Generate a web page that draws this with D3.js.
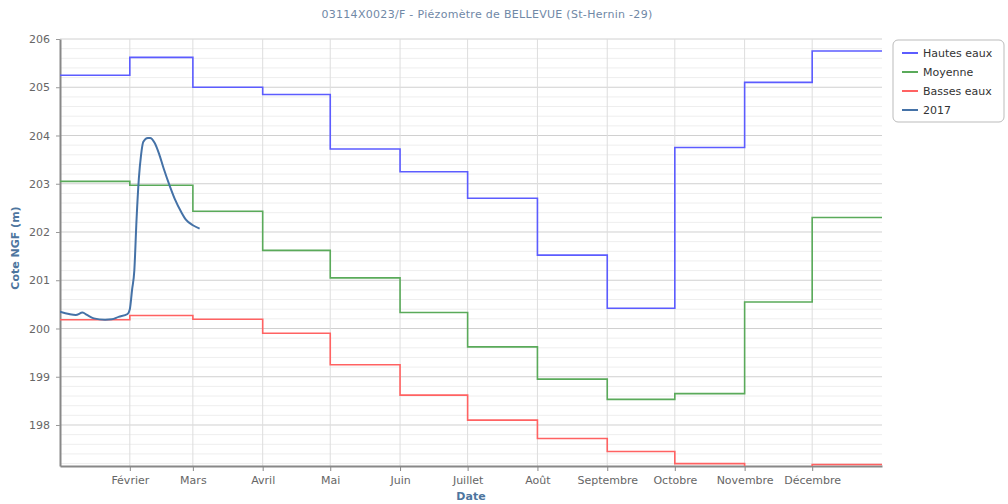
<!DOCTYPE html>
<html>
<head>
<meta charset="utf-8">
<script src="https://cdn.jsdelivr.net/npm/d3@7"></script>
<style>
  body { margin: 0; background: #fff; }
  svg { font-family: 'DejaVu Sans', sans-serif; }
  .tick-label { font-size: 11px; fill: #666; }
  .axis-title { font-size: 11px; fill: #4d759e; font-weight: bold; }
  .chart-title { font-size: 11px; fill: #7088a6; letter-spacing: 0.3px; }
  .legend-text { font-size: 11px; fill: #333; }
</style>
</head>
<body>
<svg id="chart" width="1008" height="504"></svg>
<script>
// Monthly reference levels (one value per month, held until next month)
const monthStarts = ['2017-01-01', '2017-02-01', '2017-03-01', '2017-04-01', '2017-05-01', '2017-06-01',
  '2017-07-01', '2017-08-01', '2017-09-01', '2017-10-01', '2017-11-01', '2017-12-01'];
const monthLabels = ['', 'Février', 'Mars', 'Avril', 'Mai', 'Juin', 'Juillet', 'Août', 'Septembre', 'Octobre', 'Novembre', 'Décembre'];
const hautesEaux = [205.25, 205.62, 205.0, 204.85, 203.72, 203.25, 202.7, 201.52, 200.42, 203.75, 205.1, 205.75];
const moyenne = [203.05, 202.97, 202.43, 201.62, 201.05, 200.33, 199.62, 198.95, 198.53, 198.65, 200.55, 202.3];
const bassesEaux = [200.18, 200.27, 200.19, 199.9, 199.25, 198.62, 198.1, 197.72, 197.45, 197.2, 196.9, 197.18];

// 2017 measurements
const dates2017 = ['2017-01-01', '2017-01-05', '2017-01-08', '2017-01-11', '2017-01-13', '2017-01-16', '2017-01-21',
  '2017-01-24', '2017-01-27', '2017-01-31', '2017-02-01', '2017-02-02', '2017-02-03', '2017-02-04', '2017-02-05',
  '2017-02-06', '2017-02-07', '2017-02-09', '2017-02-10', '2017-02-12', '2017-02-14', '2017-02-16', '2017-02-19',
  '2017-02-21', '2017-02-24', '2017-02-26', '2017-03-01', '2017-03-04'];
const values2017 = [200.35, 200.3, 200.28, 200.33, 200.28, 200.21, 200.18,
  200.19, 200.24, 200.3, 200.4, 200.8, 201.2, 202.27, 203.1,
  203.6, 203.87, 203.95, 203.95, 203.85, 203.62, 203.32, 202.92,
  202.68, 202.4, 202.25, 202.14, 202.07];

const yTicks = [198, 199, 200, 201, 202, 203, 204, 205, 206];

const series = [
  { name: 'Hautes eaux', values: hautesEaux, color: '#5c5cff' },
  { name: 'Moyenne', values: moyenne, color: '#5aaa5a' },
  { name: 'Basses eaux', values: bassesEaux, color: '#ff6262' },
];

const parse = d3.timeParse('%Y-%m-%d');
const svg = d3.select('#chart');

const margin = { top: 39, right: 126, bottom: 38, left: 60 };
const width = 1008 - margin.left - margin.right;
const height = 504 - margin.top - margin.bottom;

const x = d3.scaleTime()
  .domain([parse('2017-01-01'), parse('2018-01-01')])
  .range([0, width]);

const y = d3.scaleLinear()
  .domain([197.15, 206])
  .range([height, 0]);

const chart = svg.append('g')
  .attr('transform', `translate(${margin.left},${margin.top})`);

// Minor horizontal grid (every 0.2 m)
const minorTicks = d3.range(197.2, 206.001, 0.2).filter((v) => Math.abs(v - Math.round(v)) > 0.01);
chart.append('g')
  .selectAll('line')
  .data(minorTicks)
  .join('line')
  .attr('x1', 0).attr('x2', width)
  .attr('y1', (d) => y(d)).attr('y2', (d) => y(d))
  .attr('stroke', '#eeeeee');

// Major horizontal grid
chart.append('g')
  .selectAll('line')
  .data(yTicks)
  .join('line')
  .attr('x1', 0).attr('x2', width)
  .attr('y1', (d) => y(d)).attr('y2', (d) => y(d))
  .attr('stroke', '#d0d0d0');

// Vertical grid at each month start
const monthDates = monthStarts.map(parse);
chart.append('g')
  .selectAll('line')
  .data(monthDates.slice(1))
  .join('line')
  .attr('x1', (d) => x(d)).attr('x2', (d) => x(d))
  .attr('y1', 0).attr('y2', height)
  .attr('stroke', '#dddddd');

// X axis
const xAxis = chart.append('g')
  .attr('transform', `translate(0,${height})`)
  .call(d3.axisBottom(x)
    .tickValues(monthDates.slice(1))
    .tickFormat((d, i) => monthLabels[i + 1])
    .tickSize(5)
    .tickSizeOuter(0)
    .tickPadding(5));
xAxis.select('.domain').attr('stroke', '#888').attr('stroke-width', 2);
xAxis.selectAll('.tick line').attr('stroke', '#888');
xAxis.selectAll('text').attr('class', 'tick-label').attr('fill', null);
xAxis.attr('font-size', null).attr('font-family', null);

// Y axis
const yAxis = chart.append('g')
  .call(d3.axisLeft(y)
    .tickValues(yTicks)
    .tickFormat(d3.format('d'))
    .tickSize(4)
    .tickSizeOuter(0)
    .tickPadding(6));
yAxis.select('.domain').attr('stroke', '#888').attr('stroke-width', 2);
yAxis.selectAll('.tick line').attr('stroke', '#999');
yAxis.selectAll('text').attr('class', 'tick-label').attr('fill', null);
yAxis.attr('font-size', null).attr('font-family', null);

// Clip so values below the axis minimum are hidden
svg.append('defs').append('clipPath').attr('id', 'plot-clip')
  .append('rect').attr('width', width).attr('height', height);

const plot = chart.append('g').attr('clip-path', 'url(#plot-clip)');

const stepLine = d3.line()
  .x((d) => x(d.date))
  .y((d) => y(d.value))
  .curve(d3.curveStepAfter);

series.forEach((s) => {
  const points = monthDates.map((date, i) => ({ date, value: s.values[i] }));
  // hold December until the end of the year
  points.push({ date: x.domain()[1], value: s.values[s.values.length - 1] });
  plot.append('path')
    .datum(points)
    .attr('fill', 'none')
    .attr('stroke', s.color)
    .attr('stroke-width', 1.6)
    .attr('d', stepLine);
});

const line2017 = d3.line()
  .x((d) => x(d.date))
  .y((d) => y(d.value))
  .curve(d3.curveMonotoneX);

plot.append('path')
  .datum(dates2017.map((d, i) => ({ date: parse(d), value: values2017[i] })))
  .attr('fill', 'none')
  .attr('stroke', '#4572a7')
  .attr('stroke-width', 2)
  .attr('d', line2017);

// Title and axis titles
svg.append('text')
  .attr('class', 'chart-title')
  .attr('x', 487)
  .attr('y', 18)
  .attr('text-anchor', 'middle')
  .text('03114X0023/F - Piézomètre de BELLEVUE (St-Hernin -29)');

svg.append('text')
  .attr('class', 'axis-title')
  .attr('x', margin.left + width / 2)
  .attr('y', 500)
  .attr('text-anchor', 'middle')
  .text('Date');

svg.append('text')
  .attr('class', 'axis-title')
  .attr('transform', 'rotate(-90)')
  .attr('x', -248)
  .attr('y', 19)
  .attr('text-anchor', 'middle')
  .text('Cote NGF (m)');

// Legend
const legend = svg.append('g').attr('transform', 'translate(893,40)');
legend.append('rect')
  .attr('width', 111).attr('height', 82)
  .attr('rx', 5)
  .attr('fill', '#fff')
  .attr('stroke', '#bbb');

const legendItems = series.concat([{ name: '2017', color: '#4572a7' }]);
legendItems.forEach((s, i) => {
  const ly = 13 + i * 19;
  legend.append('line')
    .attr('x1', 9).attr('x2', 25)
    .attr('y1', ly).attr('y2', ly)
    .attr('stroke', s.color)
    .attr('stroke-width', 2);
  legend.append('text')
    .attr('class', 'legend-text')
    .attr('x', 30)
    .attr('y', ly + 4)
    .text(s.name);
});
</script>
</body>
</html>
